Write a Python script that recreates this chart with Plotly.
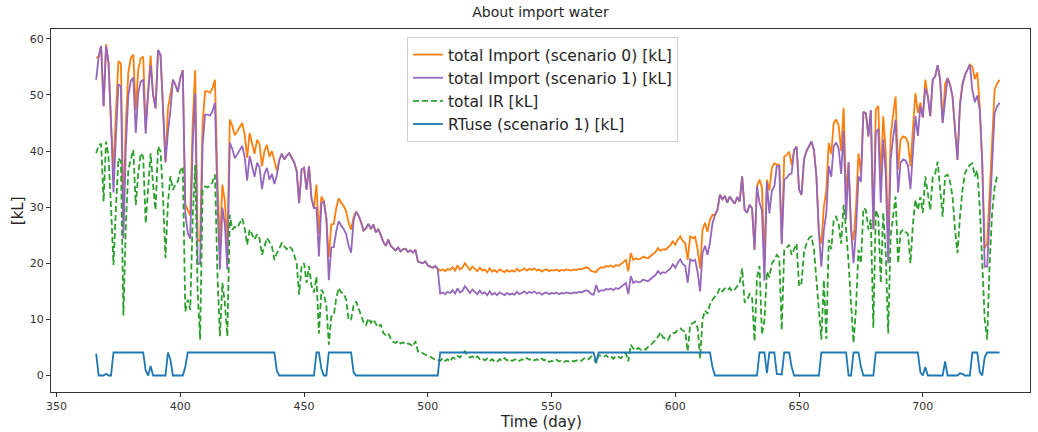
import plotly.graph_objects as go

days = list(range(366, 732))

import_s0 = [
    56.6, 56.8, 58.7, 48.0, 59.0, 55.7, 45.0, 36.7, 47.0, 56.0,
    55.6, 28.5, 45.0, 54.0, 56.6, 57.2, 47.3, 54.5, 56.5, 56.8,
    44.0, 50.5, 57.0, 50.0, 47.6, 58.0, 57.1, 48.0, 38.0, 47.5,
    50.0, 52.7, 51.8, 50.5, 53.0, 54.4, 30.5, 29.5, 28.5, 45.0,
    54.4, 24.0, 24.0, 45.0, 50.6, 50.6, 50.4, 51.2, 52.7, 35.0,
    23.0, 34.0, 31.0, 23.0, 45.6, 44.5, 42.8, 43.5, 44.2, 45.0,
    43.0, 38.8, 43.2, 41.5, 39.5, 42.0, 41.2, 37.3, 40.0, 41.1,
    39.0, 40.0, 38.2, 36.5, 38.4, 39.5, 38.5, 39.2, 39.6, 38.8,
    38.0, 36.5, 30.7, 36.7, 37.0, 33.1, 37.3, 31.5, 29.8, 34.0,
    25.3, 31.9, 31.0, 28.0, 21.1, 26.9, 27.0, 29.8, 31.6, 30.8,
    30.2, 29.3, 27.2, 26.0, 28.2, 29.2, 28.5, 27.4, 25.8, 26.2,
    27.0, 26.1, 26.9, 25.5, 26.1, 25.0, 23.8, 23.1, 24.2, 23.1,
    22.6, 22.3, 22.8, 22.1, 22.5, 22.6, 22.0, 22.3, 21.9, 22.4,
    20.3, 20.2, 20.0, 20.3, 19.6, 19.4, 19.2, 19.5, 19.0, 18.7,
    18.9, 18.6, 19.0, 18.8, 19.3, 18.7, 19.6, 18.9, 19.2, 20.0,
    19.3, 18.8, 19.4, 19.0, 18.6, 19.2, 18.7, 18.9, 18.4, 19.1,
    18.5, 18.8, 18.4, 18.9, 18.6, 18.4, 18.8, 18.5, 18.7, 18.5,
    19.0, 18.6, 18.8, 19.1, 18.7, 19.0, 18.8, 19.1, 18.7, 18.9,
    18.5, 18.8, 18.9, 18.6, 18.8, 18.7, 18.9, 18.6, 18.8, 18.7,
    18.9, 18.8, 18.7, 18.9, 18.8, 19.0, 18.9, 19.1, 19.3, 19.1,
    18.6, 18.5, 18.4, 19.0, 19.3, 19.2, 19.5, 19.4, 19.6, 19.3,
    19.7, 19.5, 19.8, 20.2, 20.6, 18.6, 21.8, 20.6, 20.9, 20.7,
    20.8, 21.2, 21.0, 20.9, 21.3, 21.6, 22.0, 22.7, 22.2, 22.5,
    22.4, 22.8, 23.2, 23.9, 23.3, 24.2, 24.8, 24.0, 23.6, 20.6,
    24.8, 24.5, 24.7, 22.5, 19.1, 26.0, 27.2, 25.6, 27.8, 28.6,
    28.6, 29.5, 32.2, 31.4, 32.0, 30.8, 31.9, 31.2, 30.6, 31.8,
    31.0, 35.5, 29.5, 29.0, 30.4, 29.8, 22.4, 33.7, 34.9, 33.5,
    21.0, 34.9, 33.0, 37.0, 37.8, 37.6, 37.5, 23.6, 39.0, 39.3,
    39.9, 37.5, 40.2, 40.8, 33.1, 32.2, 38.5, 40.0, 40.8, 41.7,
    40.2, 35.5, 25.4, 23.5, 30.0, 33.0, 41.4, 39.5, 45.0, 45.6,
    44.5, 40.0, 47.7, 31.9, 38.0, 26.0, 24.1, 30.0, 39.6, 36.0,
    47.0, 46.7, 42.6, 47.3, 26.0, 47.4, 48.0, 34.9, 46.2, 40.0,
    24.1, 42.6, 46.5, 49.7, 36.7, 42.0, 42.6, 42.4, 41.5, 37.3,
    44.0, 50.3, 46.8, 48.6, 46.0, 52.7, 49.8, 46.2, 52.7, 53.3,
    55.3, 52.7, 45.0, 52.0, 53.0, 51.8, 49.7, 43.8, 38.4, 48.5,
    52.0, 53.5, 54.5, 55.4, 55.0, 52.8, 54.0, 48.0, 38.0, 22.7,
    23.5, 33.0, 43.0, 50.9, 52.0, 52.7,
]

import_s1 = [
    52.7, 56.8, 58.7, 48.0, 58.7, 55.7, 45.0, 32.6, 42.9, 51.9,
    51.5, 24.4, 40.9, 49.9, 52.5, 53.1, 43.2, 50.4, 52.4, 52.7,
    43.1, 50.5, 55.3, 50.0, 47.6, 58.0, 57.1, 48.0, 38.0, 43.4,
    47.2, 52.7, 51.8, 50.5, 53.0, 54.4, 29.0, 25.4, 24.4, 40.9,
    50.3, 19.9, 19.9, 40.9, 46.5, 46.5, 46.3, 47.1, 48.6, 30.9,
    18.9, 29.9, 26.9, 18.9, 41.5, 40.4, 38.7, 39.4, 40.1, 40.9,
    38.9, 34.7, 39.1, 37.4, 35.4, 37.9, 37.1, 33.2, 35.9, 37.0,
    34.9, 35.9, 34.1, 35.7, 38.4, 39.5, 38.5, 39.2, 39.6, 38.8,
    38.0, 36.5, 30.7, 36.7, 37.0, 33.1, 37.3, 31.5, 29.8, 29.9,
    21.2, 30.7, 31.0, 28.0, 17.0, 22.8, 22.9, 25.7, 27.5, 26.7,
    26.1, 25.2, 23.1, 21.9, 27.6, 29.2, 28.5, 27.4, 25.8, 26.2,
    27.0, 26.1, 26.9, 25.5, 26.1, 25.0, 23.8, 23.1, 24.2, 23.1,
    22.6, 22.3, 22.8, 22.1, 22.5, 22.6, 22.0, 22.3, 21.9, 22.4,
    20.3, 20.2, 20.0, 20.3, 19.6, 19.4, 19.2, 19.5, 19.0, 14.6,
    14.8, 14.5, 14.9, 14.7, 15.2, 14.6, 15.5, 14.8, 15.1, 15.9,
    15.2, 14.7, 15.3, 14.9, 14.5, 15.1, 14.6, 14.8, 14.3, 15.0,
    14.4, 14.7, 14.3, 14.8, 14.5, 14.3, 14.7, 14.4, 14.6, 14.4,
    14.9, 14.5, 14.7, 15.0, 14.6, 14.9, 14.7, 15.0, 14.6, 14.8,
    14.4, 14.7, 14.8, 14.5, 14.7, 14.6, 14.8, 14.5, 14.7, 14.6,
    14.8, 14.7, 14.6, 14.8, 14.7, 14.9, 14.8, 15.0, 15.2, 15.0,
    14.5, 14.4, 16.1, 14.9, 15.2, 15.1, 15.4, 15.3, 15.5, 15.2,
    15.6, 15.4, 15.7, 16.1, 16.5, 14.5, 17.7, 16.5, 16.8, 16.6,
    16.7, 17.1, 16.9, 16.8, 17.2, 17.5, 17.9, 18.6, 18.1, 18.4,
    18.3, 18.7, 19.1, 19.8, 19.2, 20.1, 20.7, 19.9, 19.5, 16.5,
    20.7, 20.4, 20.6, 18.4, 15.0, 21.9, 23.1, 21.5, 23.7, 27.1,
    28.6, 29.5, 32.2, 31.4, 32.0, 30.8, 31.9, 31.2, 30.6, 31.8,
    31.0, 35.5, 29.5, 29.0, 30.4, 29.8, 22.4, 33.7, 30.8, 29.4,
    16.9, 34.5, 28.9, 32.9, 33.7, 37.3, 37.3, 23.4, 34.9, 35.2,
    35.8, 36.0, 40.2, 40.8, 33.1, 32.2, 38.5, 40.0, 40.8, 41.7,
    40.2, 35.5, 25.4, 19.4, 25.9, 28.9, 37.3, 35.4, 40.9, 41.5,
    40.4, 35.9, 43.6, 27.8, 38.0, 26.0, 20.0, 25.9, 35.5, 34.5,
    47.0, 46.7, 42.6, 47.3, 26.0, 43.3, 43.9, 30.8, 42.1, 35.9,
    20.0, 38.5, 42.4, 45.6, 32.6, 37.9, 38.5, 38.3, 37.4, 33.2,
    39.9, 46.2, 42.7, 48.0, 46.0, 51.2, 49.8, 46.2, 52.7, 53.3,
    55.3, 52.7, 45.0, 49.5, 53.0, 51.8, 49.7, 43.8, 38.4, 48.1,
    51.7, 53.5, 54.5, 55.4, 50.9, 48.7, 49.9, 47.4, 38.0, 19.4,
    19.4, 28.9, 38.9, 46.8, 47.9, 48.6,
]

total_ir = [
    39.6, 41.0, 41.3, 31.0, 41.7, 39.0, 30.0, 19.7, 30.0, 38.7,
    38.1, 10.7, 27.0, 36.7, 38.5, 40.2, 30.4, 36.0, 39.6, 39.0,
    27.1, 33.0, 39.6, 34.0, 29.5, 40.8, 40.0, 32.0, 20.9, 30.7,
    35.5, 33.1, 34.0, 34.6, 36.5, 37.2, 11.4, 13.5, 11.7, 28.0,
    37.5, 15.0, 6.4, 33.1, 33.7, 33.5, 33.8, 34.5, 35.8, 18.0,
    7.0, 16.5, 12.9, 7.0, 28.6, 26.0, 26.5, 26.3, 27.2, 28.0,
    26.2, 23.3, 26.0, 25.0, 24.2, 25.2, 24.4, 21.5, 23.0, 24.5,
    23.8, 23.0, 20.6, 21.8, 22.6, 23.6, 23.0, 22.5, 23.0, 22.6,
    21.5, 20.0, 14.4, 19.5, 20.0, 16.5, 19.5, 16.0, 14.8, 17.6,
    7.5, 15.3, 14.5, 12.5, 5.5, 10.5, 10.7, 13.8, 15.6, 14.8,
    14.6, 13.5, 9.9, 10.0, 12.5, 13.2, 12.0, 10.8, 9.5, 9.0,
    10.2, 9.4, 10.0, 9.2, 8.6, 9.1, 7.6, 7.2, 7.5, 6.6,
    6.0, 5.8, 6.2, 5.7, 5.9, 5.5, 5.7, 5.5, 5.2, 6.1,
    4.3, 4.2, 3.9, 3.7, 3.6, 3.3, 3.0, 2.8, 2.8, 2.6,
    3.1, 2.6, 2.9, 2.5, 3.2, 3.0, 3.5, 3.2, 3.8, 4.3,
    3.6, 3.2, 3.4, 3.0, 3.4, 2.9, 3.1, 2.7, 3.0, 2.6,
    2.9, 2.5, 2.4, 2.9, 2.6, 3.1, 2.7, 2.9, 2.6, 2.8,
    3.0, 2.6, 2.9, 2.7, 3.1, 2.8, 3.0, 2.7, 2.9, 2.6,
    3.0, 2.7, 2.9, 2.4, 2.6, 2.5, 2.8, 2.5, 2.7, 2.4,
    2.6, 2.5, 2.7, 2.5, 2.6, 2.8, 2.6, 3.0, 3.2, 2.9,
    3.4, 3.0, 2.2, 3.6, 3.5, 3.3, 3.6, 3.2, 3.4, 3.0,
    3.5, 3.3, 3.1, 3.6, 4.0, 2.5, 5.5, 4.8, 4.5, 4.9,
    4.6, 4.8, 4.6, 5.1, 5.4, 5.9, 6.3, 6.9, 7.7, 6.8,
    6.6, 6.3, 7.2, 7.6, 7.6, 8.2, 8.4, 8.0, 7.8, 4.3,
    9.0, 9.3, 9.6, 8.5, 3.1, 10.0, 11.6, 11.0, 12.7, 13.5,
    14.0, 14.6, 15.6, 15.0, 15.5, 15.2, 15.6, 15.0, 15.3, 16.0,
    16.5, 19.1, 13.0, 13.5, 14.5, 14.0, 6.1, 17.4, 19.5, 7.3,
    9.9, 18.5, 17.5, 20.0, 20.6, 21.5, 21.0, 8.1, 22.4, 22.8,
    23.3, 21.5, 22.5, 23.5, 15.9, 16.5, 22.0, 23.5, 24.5, 24.8,
    22.5, 17.5, 12.0, 6.4, 17.0, 6.5, 24.2, 22.5, 27.8, 28.3,
    27.0, 23.5, 30.4, 26.0, 20.0, 12.0, 5.8, 12.0, 22.4, 20.0,
    29.8, 29.5, 26.0, 27.8, 8.5, 29.5, 28.3, 16.5, 29.0, 22.0,
    7.5, 25.0, 29.0, 31.9, 20.0, 25.5, 26.0, 25.5, 25.2, 20.0,
    27.0, 31.3, 29.5, 31.8, 29.0, 35.5, 32.5, 29.5, 35.3, 36.0,
    38.1, 33.5, 28.3, 35.5, 35.8, 34.5, 31.9, 26.0, 21.8, 28.3,
    33.0, 36.0, 37.0, 37.5, 37.8, 35.5, 36.5, 30.0, 20.0, 10.0,
    6.4, 20.0, 29.0, 33.5, 35.5, 35.5,
]

rtuse_s1 = [
    3.9, 0, 0, 0, 0.3, 0, 0, 4.1, 4.1, 4.1,
    4.1, 4.1, 4.1, 4.1, 4.1, 4.1, 4.1, 4.1, 4.1, 4.1,
    0.9, 0, 1.7, 0, 0, 0, 0, 0, 0, 4.1,
    2.8, 0, 0, 0, 0, 0, 1.5, 4.1, 4.1, 4.1,
    4.1, 4.1, 4.1, 4.1, 4.1, 4.1, 4.1, 4.1, 4.1, 4.1,
    4.1, 4.1, 4.1, 4.1, 4.1, 4.1, 4.1, 4.1, 4.1, 4.1,
    4.1, 4.1, 4.1, 4.1, 4.1, 4.1, 4.1, 4.1, 4.1, 4.1,
    4.1, 4.1, 4.1, 0.8, 0, 0, 0, 0, 0, 0,
    0, 0, 0, 0, 0, 0, 0, 0, 0, 4.1,
    4.1, 1.2, 0, 0, 4.1, 4.1, 4.1, 4.1, 4.1, 4.1,
    4.1, 4.1, 4.1, 4.1, 0.6, 0, 0, 0, 0, 0,
    0, 0, 0, 0, 0, 0, 0, 0, 0, 0,
    0, 0, 0, 0, 0, 0, 0, 0, 0, 0,
    0, 0, 0, 0, 0, 0, 0, 0, 0, 4.1,
    4.1, 4.1, 4.1, 4.1, 4.1, 4.1, 4.1, 4.1, 4.1, 4.1,
    4.1, 4.1, 4.1, 4.1, 4.1, 4.1, 4.1, 4.1, 4.1, 4.1,
    4.1, 4.1, 4.1, 4.1, 4.1, 4.1, 4.1, 4.1, 4.1, 4.1,
    4.1, 4.1, 4.1, 4.1, 4.1, 4.1, 4.1, 4.1, 4.1, 4.1,
    4.1, 4.1, 4.1, 4.1, 4.1, 4.1, 4.1, 4.1, 4.1, 4.1,
    4.1, 4.1, 4.1, 4.1, 4.1, 4.1, 4.1, 4.1, 4.1, 4.1,
    4.1, 4.1, 2.3, 4.1, 4.1, 4.1, 4.1, 4.1, 4.1, 4.1,
    4.1, 4.1, 4.1, 4.1, 4.1, 4.1, 4.1, 4.1, 4.1, 4.1,
    4.1, 4.1, 4.1, 4.1, 4.1, 4.1, 4.1, 4.1, 4.1, 4.1,
    4.1, 4.1, 4.1, 4.1, 4.1, 4.1, 4.1, 4.1, 4.1, 4.1,
    4.1, 4.1, 4.1, 4.1, 4.1, 4.1, 4.1, 4.1, 4.1, 1.5,
    0, 0, 0, 0, 0, 0, 0, 0, 0, 0,
    0, 0, 0, 0, 0, 0, 0, 0, 4.1, 4.1,
    4.1, 0.4, 4.1, 4.1, 4.1, 0.3, 0.2, 0.2, 4.1, 4.1,
    4.1, 1.5, 0, 0, 0, 0, 0, 0, 0, 0,
    0, 0, 0, 4.1, 4.1, 4.1, 4.1, 4.1, 4.1, 4.1,
    4.1, 4.1, 4.1, 4.1, 0, 0, 4.1, 4.1, 4.1, 1.5,
    0, 0, 0, 0, 0, 4.1, 4.1, 4.1, 4.1, 4.1,
    4.1, 4.1, 4.1, 4.1, 4.1, 4.1, 4.1, 4.1, 4.1, 4.1,
    4.1, 4.1, 4.1, 0.6, 0, 1.5, 0, 0, 0, 0,
    0, 0, 0, 2.5, 0, 0, 0, 0, 0, 0.4,
    0.3, 0, 0, 0, 4.1, 4.1, 4.1, 0.6, 0, 3.3,
    4.1, 4.1, 4.1, 4.1, 4.1, 4.1,
]

series_names = [
    "total Import (scenario 0) [kL]",
    "total Import (scenario 1) [kL]",
    "total IR [kL]",
    "RTuse (scenario 1) [kL]",
]
x_ticks = [350, 400, 450, 500, 550, 600, 650, 700]
y_ticks = [0, 10, 20, 30, 40, 50, 60]

FONT = "DejaVu Sans"
LW = 1.8
fig = go.Figure()
fig.add_trace(go.Scatter(x=days, y=import_s0, mode="lines", name=series_names[0],
                         line=dict(color="#ff7f0e", width=LW)))
fig.add_trace(go.Scatter(x=days, y=import_s1, mode="lines", name=series_names[1],
                         line=dict(color="#9467bd", width=LW)))
fig.add_trace(go.Scatter(x=days, y=total_ir, mode="lines", name=series_names[2],
                         line=dict(color="#2ca02c", width=LW, dash="6px,3px")))
fig.add_trace(go.Scatter(x=days, y=rtuse_s1, mode="lines", name=series_names[3],
                         line=dict(color="#1f77b4", width=LW)))

axis_common = dict(showline=True, linecolor="#333333", linewidth=1, mirror=True,
                   ticks="outside", ticklen=4, tickcolor="#333333", showgrid=False,
                   zeroline=False, tickfont=dict(family=FONT, size=11, color="#333333"))

fig.update_layout(
    width=1038, height=432,
    margin=dict(l=51, r=8, t=29, b=40),
    paper_bgcolor="white", plot_bgcolor="white",
    font=dict(family=FONT, color="#262626"),
    title=dict(text="About import water", x=0.5, xref="paper", xanchor="center",
               y=1 - 12 / 432, yref="container", yanchor="middle",
               font=dict(family=FONT, size=14, color="#262626")),
    xaxis=dict(range=[347.75, 743.3], tickvals=x_ticks, **axis_common),
    yaxis=dict(range=[-2.94, 61.74], tickvals=y_ticks, **axis_common),
    legend=dict(x=0.3636, y=0.978, xanchor="left", yanchor="top",
                bgcolor="rgba(255,255,255,0.85)", bordercolor="#d0d0d0", borderwidth=1,
                font=dict(family=FONT, size=15.5, color="#262626"), tracegroupgap=0),
    showlegend=True,
    annotations=[
        dict(text="Time (day)", xref="paper", yref="paper", x=0.5, y=-0.052,
             xanchor="center", yanchor="top", showarrow=False,
             font=dict(family=FONT, size=15, color="#262626")),
        dict(text="[kL]", xref="paper", yref="paper", x=-0.034, y=0.5,
             xanchor="center", yanchor="middle", textangle=-90, showarrow=False,
             font=dict(family=FONT, size=15, color="#262626")),
    ],
)

fig.write_html("out.html", config={"displayModeBar": False},
               post_script="document.body.style.margin='0';document.body.style.overflow='hidden';")
